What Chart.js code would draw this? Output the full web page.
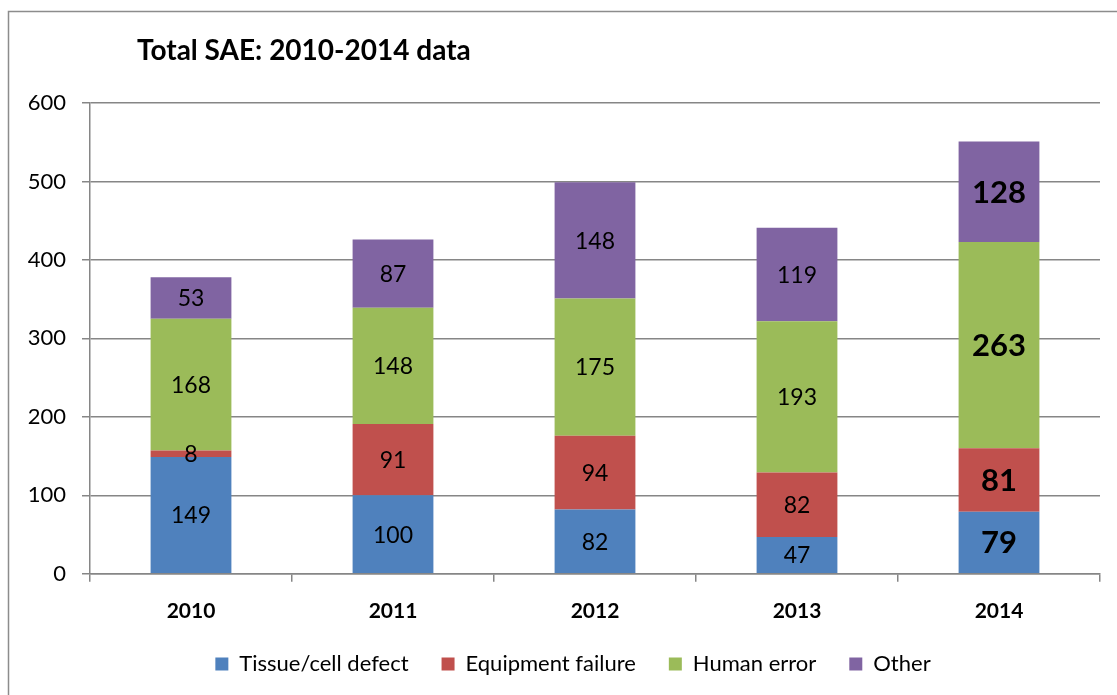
<!DOCTYPE html>
<html>
<head>
<meta charset="utf-8">
<script src="https://cdn.jsdelivr.net/npm/chart.js@4/dist/chart.umd.min.js"></script>
<style>
  html, body { margin: 0; padding: 0; background: #fff; }
  #wrap { width: 1117px; height: 695px; }
</style>
</head>
<body>
<div id="wrap"><canvas id="myChart" width="1117" height="695"></canvas></div>
<script>
// values
var years = ['2010', '2011', '2012', '2013', '2014'];
var tissue = [149, 100, 82, 47, 79];
var equipment = [8, 91, 94, 82, 81];
var human = [168, 148, 175, 193, 263];
var other = [53, 87, 148, 119, 128];
var yTicks = [0, 100, 200, 300, 400, 500, 600];

var FONT = "Lato, 'Noto Sans', sans-serif";

// frame + title
var framePlugin = {
  id: 'frame',
  afterLayout: function(chart) {
    // legend sits a little right of centre in the original
    chart.legend.left += 19;
    chart.legend.right += 19;
  },
  beforeDraw: function(chart) {
    var c = chart.ctx;
    c.save();
    c.fillStyle = '#fff';
    c.fillRect(0, 0, chart.width, chart.height);
    c.strokeStyle = '#8c8c8c';
    c.lineWidth = 1.5;
    c.strokeRect(8.5, 11.5, 1300, 900);
    c.fillStyle = '#000';
    c.font = 'bold 28px ' + FONT;
    c.textBaseline = 'middle';
    c.fillText('Total SAE: 2010-2014 data', 137, 51);
    c.restore();
  }
};

// labels in the middle of every segment
var labelPlugin = {
  id: 'segLabels',
  afterDatasetsDraw: function(chart) {
    var c = chart.ctx;
    c.save();
    c.fillStyle = '#000';
    c.textAlign = 'center';
    c.textBaseline = 'middle';
    chart.data.datasets.forEach(function(ds, i) {
      var meta = chart.getDatasetMeta(i);
      meta.data.forEach(function(bar, j) {
        var big = j == 4;
        c.font = (big ? 'bold 31px ' : '23px ') + FONT;
        c.fillText(ds.data[j], bar.x, (bar.y + bar.base) / 2 + 1);
      });
    });
    c.restore();
  }
};

var ctx = document.getElementById('myChart').getContext('2d');
var myChart = new Chart(ctx, {
  type: 'bar',
  data: {
    labels: years,
    datasets: [
      { label: 'Tissue/cell defect', data: tissue, backgroundColor: '#4F81BD' },
      { label: 'Equipment failure', data: equipment, backgroundColor: '#C0504D' },
      { label: 'Human error', data: human, backgroundColor: '#9BBB59' },
      { label: 'Other', data: other, backgroundColor: '#8064A2' }
    ]
  },
  options: {
    responsive: false,
    animation: false,
    datasets: { bar: { categoryPercentage: 1, barPercentage: 0.4 } },
    layout: { padding: { top: 103, left: 8, right: 17, bottom: 10 } },
    scales: {
      x: {
        stacked: true,
        afterFit: function(axis) { axis.height -= 21; },
        border: { color: '#868686', width: 1.5 },
        grid: { offset: true, drawOnChartArea: false, drawTicks: true, tickLength: 8, color: '#868686', lineWidth: 1.5 },
        ticks: { color: '#000', font: { family: FONT, size: 21, weight: 'bold' }, padding: 17 }
      },
      y: {
        stacked: true,
        min: 0,
        max: 600,
        afterBuildTicks: function(axis) {
          axis.ticks = yTicks.map(function(v) { return { value: v }; });
        },
        afterFit: function(axis) { axis.width = 82; },
        border: { color: '#868686', width: 1.5 },
        grid: { color: '#868686', lineWidth: 1.5, tickLength: 8 },
        ticks: { color: '#000', font: { family: FONT, size: 22 }, padding: 16 }
      }
    },
    plugins: {
      title: { display: false },
      tooltip: { enabled: false },
      legend: {
        position: 'bottom',
        labels: {
          color: '#000',
          boxWidth: 13,
          boxHeight: 13,
          padding: 33,
          font: { family: FONT, size: 22 }
        }
      }
    }
  },
  plugins: [framePlugin, labelPlugin]
});
</script>
</body>
</html>
